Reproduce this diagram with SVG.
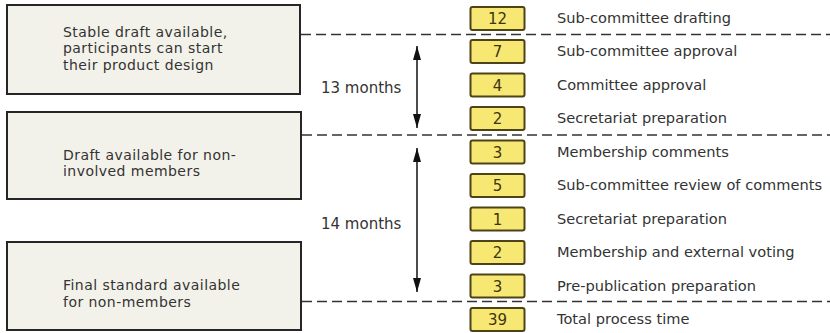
<svg xmlns="http://www.w3.org/2000/svg" width="830" height="333" viewBox="0 0 830 333">
  <defs>
    <style>
      .stage rect { fill: #f3f2ea; stroke: #262626; stroke-width: 2; }
      .stage text { font-family: "DejaVu Sans", "Liberation Sans", sans-serif; font-size: 14px; letter-spacing: 0.45px; fill: #333333; }
      .step rect { fill: #f6e872; stroke: #4e4218; stroke-width: 2; }
      .step .num { font-family: "DejaVu Sans", "Liberation Sans", sans-serif; font-size: 15px; fill: #3f3410; text-anchor: middle; }
      .step .lbl { font-family: "DejaVu Sans", "Liberation Sans", sans-serif; font-size: 14.6px; fill: #333333; }
      .dur { font-family: "DejaVu Sans", "Liberation Sans", sans-serif; font-size: 15px; fill: #333333; }
      .dash { stroke: #333333; stroke-width: 1.6; stroke-dasharray: 10 5; fill: none; }
      .span { stroke: #111111; stroke-width: 1.5; fill: none; }
    </style>
    <marker id="head" viewBox="0 0 14 8" refX="14" refY="4" markerWidth="14" markerHeight="8" markerUnits="userSpaceOnUse" orient="auto-start-reverse">
      <path d="M0,0 L14,4 L0,8 z" fill="#111111"/>
    </marker>
  </defs>

  <rect width="830" height="333" fill="#ffffff"/>

  <!-- milestone stages -->
  <g id="stage-stable-draft" class="stage">
    <rect x="7" y="5" width="293" height="89"/>
    <text x="63" y="36.5">Stable draft available,</text>
    <text x="63" y="53">participants can start</text>
    <text x="63" y="69.5">their product design</text>
  </g>
  <g id="stage-draft-nonmembers" class="stage">
    <rect x="7" y="112" width="294" height="87"/>
    <text x="63" y="159.5">Draft available for non-</text>
    <text x="63" y="176">involved members</text>
  </g>
  <g id="stage-final-standard" class="stage">
    <rect x="7" y="242" width="294" height="88"/>
    <text x="63" y="290">Final standard available</text>
    <text x="63" y="306.5">for non-members</text>
  </g>

  <!-- process steps (months) -->
  <g id="step-drafting" class="step">
    <rect x="470.5" y="7" width="54" height="23" rx="2"/>
    <text class="num" x="497.5" y="24">12</text>
    <text class="lbl" x="557" y="23">Sub-committee drafting</text>
  </g>
  <g id="step-sc-approval" class="step">
    <rect x="470.5" y="40" width="54" height="23" rx="2"/>
    <text class="num" x="497.5" y="57">7</text>
    <text class="lbl" x="557" y="56">Sub-committee approval</text>
  </g>
  <g id="step-committee-approval" class="step">
    <rect x="470.5" y="73.5" width="54" height="23" rx="2"/>
    <text class="num" x="497.5" y="90.5">4</text>
    <text class="lbl" x="557" y="89.5">Committee approval</text>
  </g>
  <g id="step-secretariat-1" class="step">
    <rect x="470.5" y="107" width="54" height="23" rx="2"/>
    <text class="num" x="497.5" y="124">2</text>
    <text class="lbl" x="557" y="123">Secretariat preparation</text>
  </g>
  <g id="step-membership-comments" class="step">
    <rect x="470.5" y="140.5" width="54" height="23" rx="2"/>
    <text class="num" x="497.5" y="157.5">3</text>
    <text class="lbl" x="557" y="156.5">Membership comments</text>
  </g>
  <g id="step-review-comments" class="step">
    <rect x="470.5" y="174" width="54" height="23" rx="2"/>
    <text class="num" x="497.5" y="191">5</text>
    <text class="lbl" x="557" y="190">Sub-committee review of comments</text>
  </g>
  <g id="step-secretariat-2" class="step">
    <rect x="470.5" y="207.5" width="54" height="23" rx="2"/>
    <text class="num" x="497.5" y="224.5">1</text>
    <text class="lbl" x="557" y="223.5">Secretariat preparation</text>
  </g>
  <g id="step-voting" class="step">
    <rect x="470.5" y="241" width="54" height="23" rx="2"/>
    <text class="num" x="497.5" y="258">2</text>
    <text class="lbl" x="557" y="257">Membership and external voting</text>
  </g>
  <g id="step-prepublication" class="step">
    <rect x="470.5" y="274.5" width="54" height="23" rx="2"/>
    <text class="num" x="497.5" y="291.5">3</text>
    <text class="lbl" x="557" y="290.5">Pre-publication preparation</text>
  </g>
  <g id="step-total" class="step">
    <rect x="470.5" y="308" width="54" height="23" rx="2"/>
    <text class="num" x="497.5" y="325">39</text>
    <text class="lbl" x="557" y="324">Total process time</text>
  </g>

  <!-- duration labels -->
  <text class="dur" x="321" y="93">13 months</text>
  <text class="dur" x="321" y="229">14 months</text>

  <!-- connectors: milestone lines and duration spans -->
  <g id="connectors">
    <line class="dash" x1="301" y1="34.5" x2="830" y2="34.5"/>
    <line class="dash" x1="302" y1="135" x2="830" y2="135"/>
    <line class="dash" x1="302" y1="301.5" x2="830" y2="301.5"/>
    <line class="span" x1="417" y1="46" x2="417" y2="128" marker-start="url(#head)" marker-end="url(#head)"/>
    <line class="span" x1="417" y1="148" x2="417" y2="292" marker-start="url(#head)" marker-end="url(#head)"/>
  </g>
</svg>
